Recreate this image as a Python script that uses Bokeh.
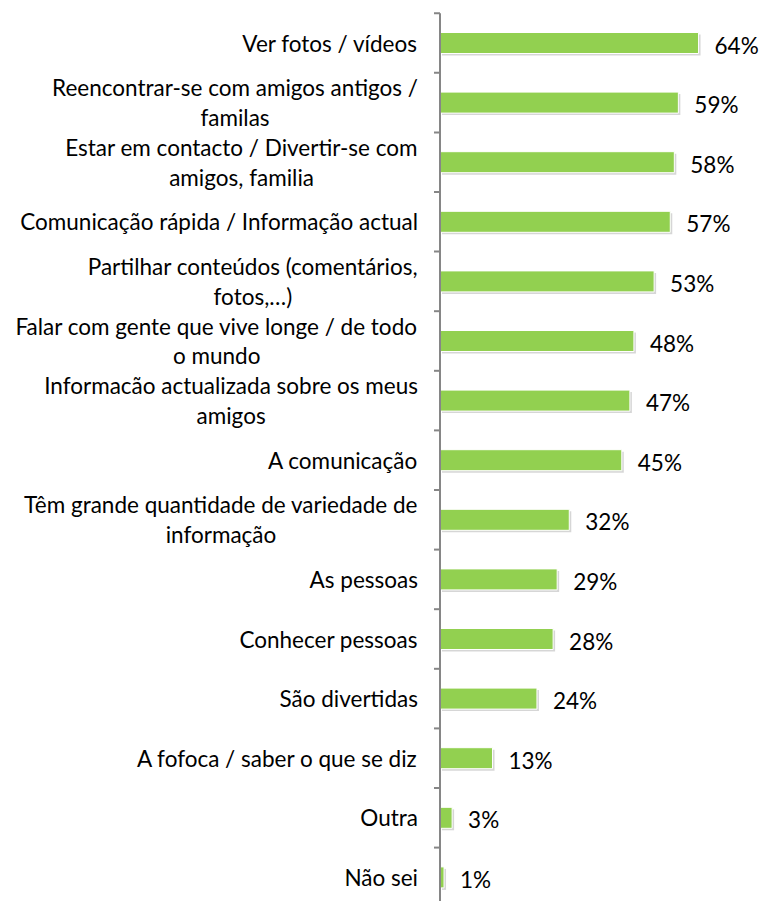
from bokeh.plotting import figure
from bokeh.models import Range1d, ColumnDataSource
from bokeh.core.properties import value
from bokeh.embed import file_html
from bokeh.resources import INLINE

categories = [
    "Ver fotos / vídeos",
    "Reencontrar-se com amigos antigos /\nfamilas",
    "Estar em contacto / Divertir-se com\namigos, familia",
    "Comunicação rápida / Informação actual",
    "Partilhar conteúdos (comentários,\nfotos,…)",
    "Falar com gente que vive longe / de todo\no mundo",
    "Informacão actualizada sobre os meus\namigos",
    "A comunicação",
    "Têm grande quantidade de variedade de\ninformação",
    "As pessoas",
    "Conhecer pessoas",
    "São divertidas",
    "A fofoca / saber o que se diz",
    "Outra",
    "Não sei",
]
values = [64, 59, 58, 57, 53, 48, 47, 45, 32, 29, 28, 24, 13, 3, 1]
value_labels = [f"{v}%" for v in values]

FONT = "Lato"
PX_X = 4.04     # px per percent
PX_Y = 59.6     # px per category
W, H = 763, 901
AX = 439.5      # x position of the zero line in the picture
Y0 = 42.5       # y position of the first category centre

n = len(categories)
idx = list(range(n))

x0 = (0 - AX) / PX_X
x1 = (W - AX) / PX_X
y_top = (0 - Y0) / PX_Y
y_bot = (H - Y0) / PX_Y

p = figure(width=W, height=H, output_backend="svg", toolbar_location=None,
           x_range=Range1d(x0, x1), y_range=Range1d(y_bot, y_top),
           min_border=0, outline_line_color=None)
p.axis.visible = False
p.grid.visible = False
p.background_fill_color = "white"
p.border_fill_color = "white"

src = ColumnDataSource(dict(y=idx, v=values, cat=categories, lab=value_labels,
                            ys=[i + 2.0 / PX_Y for i in idx],
                            vs=[v + 2.0 / PX_X for v in values]))

bar_h = 21.0 / PX_Y
# shadow
p.hbar(y="ys", left=2.0 / PX_X, right="vs", height=bar_h, source=src,
       fill_color="#000000", fill_alpha=0.16, line_color=None)
# bars
p.hbar(y="y", left=0, right="v", height=bar_h, source=src,
       fill_color="#92D050", line_color="#ffffff", line_width=1)

# axis line and ticks
p.segment(x0=[0], y0=[-0.5], x1=[0], y1=[y_bot + 1], line_color="#868686", line_width=2)
ticks = [i - 0.5 for i in range(n)]
p.segment(x0=[-6.0 / PX_X] * n, y0=ticks, x1=[0] * n, y1=ticks,
          line_color="#868686", line_width=2)

# category labels
p.text(x=0, y="y", text="cat", source=src, x_offset=-22,
       anchor="center_right", text_align="center", text_baseline="middle",
       text_font=value(FONT), text_font_size="22.5px", text_color="#000000",
       text_line_height=1.1)

# value labels
p.text(x="v", y="y", text="lab", source=src, x_offset=16, y_offset=2,
       text_align="left", text_baseline="middle",
       text_font=value(FONT), text_font_size="22.5px", text_color="#000000")

open("out.html", "w").write(file_html(p, INLINE))
